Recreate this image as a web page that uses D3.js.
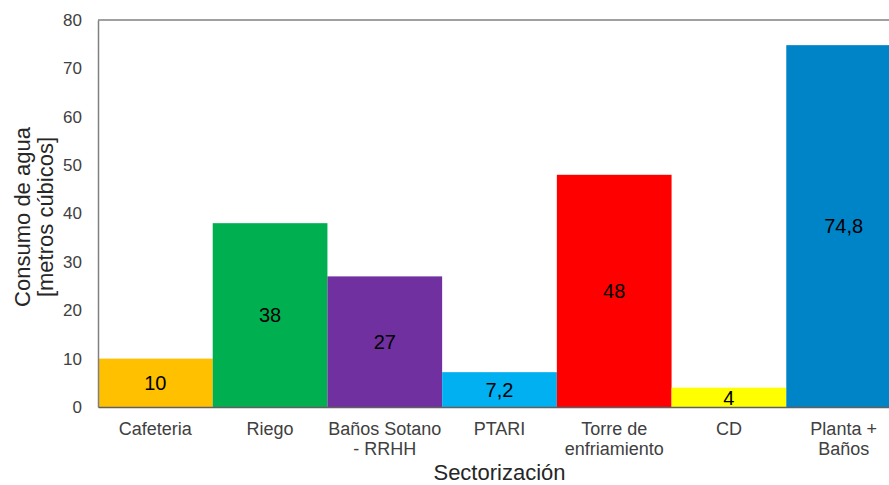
<!DOCTYPE html>
<html><head><meta charset="utf-8">
<script src="https://cdn.jsdelivr.net/npm/d3@7"></script>
<style>body{margin:0;background:#fff}svg{display:block;font-family:"Liberation Sans",Arial,sans-serif}</style>
</head><body><svg id="c" width="889" height="485"></svg>
<script>
const categories = [["Cafeteria"],["Riego"],["Baños Sotano","- RRHH"],["PTARI"],["Torre de","enfriamiento"],["CD"],["Planta +","Baños"]];
const values = [10, 38, 27, 7.2, 48, 4, 74.8];
const labels = ["10","38","27","7,2","48","4","74,8"];
const colors = ["#FFC000","#00B050","#7030A0","#00B0F0","#FF0000","#FFFF00","#0084C8"];
const yTicks = [0,10,20,30,40,50,60,70,80];

const svg = d3.select("#c");
const L = 98, R = 901, T = 20, B = 407;
const x = d3.scaleBand().domain(d3.range(values.length)).range([L, R]).padding(0);
const y = d3.scaleLinear().domain([0, 80]).range([B, T]);

svg.selectAll("rect.bar").data(values).join("rect")
  .attr("x", (d,i) => x(i)).attr("width", x.bandwidth())
  .attr("y", d => y(d)).attr("height", d => B - y(d))
  .attr("fill", (d,i) => colors[i]);

svg.selectAll("text.val").data(values).join("text")
  .attr("x", (d,i) => x(i) + x.bandwidth()/2)
  .attr("y", d => (y(d) + B)/2)
  .attr("dy", "0.36em").attr("text-anchor","middle")
  .attr("font-size", 20).attr("fill","#000")
  .text((d,i) => labels[i]);

// top border
svg.append("line").attr("x1", L).attr("x2", R).attr("y1", T).attr("y2", T)
  .attr("stroke","#808080").attr("stroke-width",1.5);

const yAxis = d3.axisLeft(y).tickValues(yTicks).tickSize(0).tickPadding(16);
const gy = svg.append("g").attr("transform", `translate(${L},0)`).call(yAxis);
gy.select(".domain").attr("stroke","#808080").attr("stroke-width",1.5);
gy.selectAll("text").attr("font-size",17).attr("fill","#404040").attr("font-family","Liberation Sans, Arial, sans-serif");

const xAxis = d3.axisBottom(x).tickSize(0).tickFormat("");
const gx = svg.append("g").attr("transform", `translate(0,${B})`).call(xAxis);
gx.select(".domain").attr("stroke","#606060").attr("stroke-width",1.5);
gx.selectAll(".tick").each(function(d){
  const t = d3.select(this).append("text").attr("text-anchor","middle")
    .attr("font-size",18).attr("fill","#404040").attr("font-family","Liberation Sans, Arial, sans-serif");
  categories[d].forEach((line,k) => t.append("tspan").attr("x",0).attr("y", 28 + k*20).text(line));
});

svg.append("text").attr("x", (L+R)/2).attr("y", 480).attr("text-anchor","middle")
  .attr("font-size",22).attr("fill","#262626").text("Sectorización");

const yt = svg.append("text").attr("transform", `translate(0,217) rotate(-90)`)
  .attr("text-anchor","middle").attr("font-size",22).attr("fill","#262626");
yt.append("tspan").attr("x",0).attr("y",30).text("Consumo de agua");
yt.append("tspan").attr("x",0).attr("y",53).text("[metros cúbicos]");
</script></body></html>
